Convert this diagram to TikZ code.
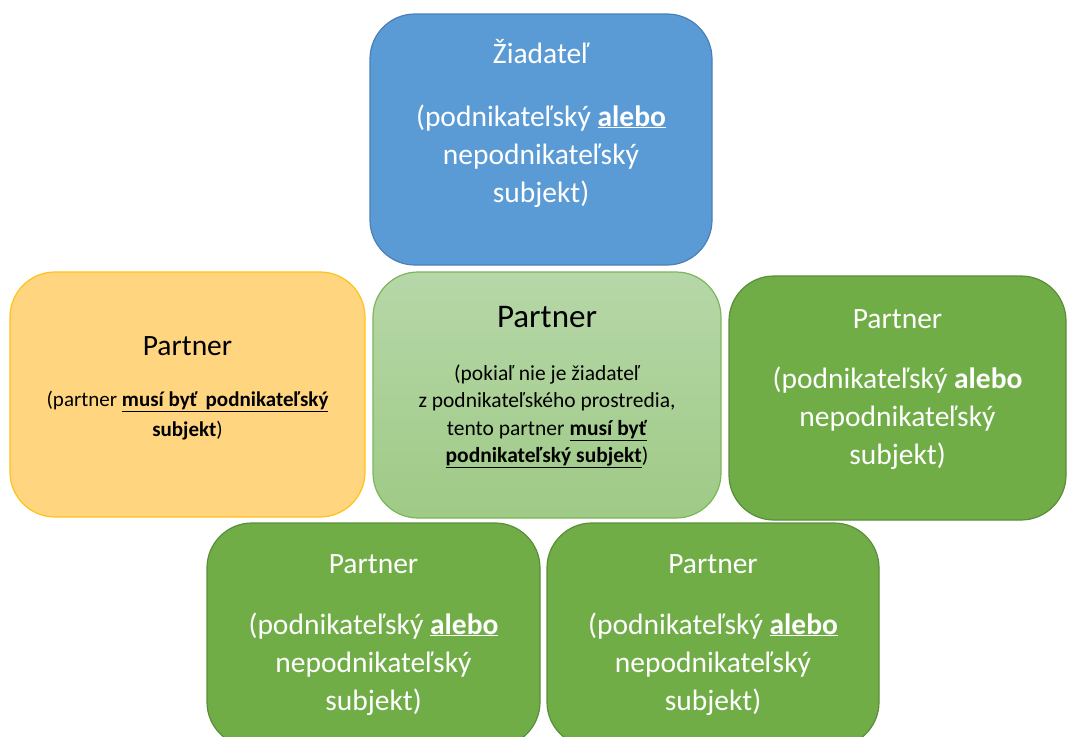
\documentclass[tikz,border=0pt]{standalone}
\usepackage{fontspec}
\setmainfont{Carlito}
\usetikzlibrary{positioning}
\definecolor{ziadblue}{HTML}{5B9BD5}
\definecolor{ziadline}{HTML}{4A80B8}
\definecolor{orfill}{HTML}{FFD57F}
\definecolor{orline}{HTML}{FFC21A}
\definecolor{ltgreentop}{HTML}{B6D7A8}
\definecolor{ltgreenbot}{HTML}{9FCA86}
\definecolor{ltgreenline}{HTML}{7DB65A}
\definecolor{dkgreen}{HTML}{70AD47}
\definecolor{dkgreenline}{HTML}{5A8E38}

\begin{document}
\begin{tikzpicture}[x=1pt,y=-1pt,
	box/.style={rectangle, rounded corners=45pt, line width=1.2pt, inner sep=0pt, outer sep=0pt},
	bluebox/.style={box, fill=ziadblue, draw=ziadline},
	orangebox/.style={box, fill=orfill, draw=orline},
	lightbox/.style={box, top color=ltgreentop, bottom color=ltgreenbot, draw=ltgreenline},
	greenbox/.style={box, fill=dkgreen, draw=dkgreenline},
	bigtext/.style={align=center, inner sep=0pt, font=\fontsize{29.5}{38}\selectfont},
	smalltext/.style={align=center, inner sep=0pt, font=\fontsize{21}{30}\selectfont},
	midtext/.style={align=center, inner sep=0pt, font=\fontsize{21.5}{27.5}\selectfont}]
		\useasboundingbox (0,0) rectangle (1067,736);
		\clip (0,0) rectangle (1067,736);
		% boxes
		\node at (541,139.5) [bluebox, minimum width=342pt, minimum height=251pt] (ziad) {};
		\node at (187.5,394.5) [orangebox, minimum width=355pt, minimum height=245pt] (porange) {};
		\node at (547,395) [lightbox, minimum width=348pt, minimum height=246pt] (pmid) {};
		\node at (897.5,398) [greenbox, minimum width=337pt, minimum height=244pt] (pright) {};
		\node at (373.5,635) [greenbox, minimum width=333pt, minimum height=224pt] (pbotl) {};
		\node at (713,635) [greenbox, minimum width=332pt, minimum height=224pt] (pbotr) {};
		% texts (base = last line)
		\node[bigtext, text=white, below=49pt of ziad.north, anchor=base] (ziadtitle) {Žiadateľ};
		\node[bigtext, text=white, below=139pt of ziadtitle.base, anchor=base] (ziadbody) {(podnikateľský \underline{\textbf{alebo}}\\ nepodnikateľský\\ subjekt)};
		\node[bigtext, below=83pt of porange.north, anchor=base] (orangetitle) {Partner};
		\node[smalltext, below=81pt of orangetitle.base, anchor=base] (orangebody) {(partner \underline{\textbf{musí byť\, podnikateľský}}\\ \textbf{subjekt})};
		\node[bigtext, font=\fontsize{33}{38}\selectfont, below=55pt of pmid.north, anchor=base] (midtitle) {Partner};
		\node[midtext, below=135.5pt of midtitle.base, anchor=base] (midbody) {(pokiaľ nie je žiadateľ\\ z podnikateľského prostredia,\\ tento partner \underline{\textbf{musí byť}}\\ \underline{\textbf{podnikateľský subjekt}})};
		\node[bigtext, text=white, below=52pt of pright.north, anchor=base] (righttitle) {Partner};
		\node[bigtext, text=white, below=136pt of righttitle.base, anchor=base] (rightbody) {(podnikateľský \textbf{alebo}\\ nepodnikateľský\\ subjekt)};
		\node[bigtext, text=white, below=50pt of pbotl.north, anchor=base] (botltitle) {Partner};
		\node[bigtext, text=white, below=137pt of botltitle.base, anchor=base] (botlbody) {(podnikateľský \underline{\textbf{alebo}}\\ nepodnikateľský\\ subjekt)};
		\node[bigtext, text=white, below=50pt of pbotr.north, anchor=base] (botrtitle) {Partner};
		\node[bigtext, text=white, below=137pt of botrtitle.base, anchor=base] (botrbody) {(podnikateľský \underline{\textbf{alebo}}\\ nepodnikateľský\\ subjekt)};
\end{tikzpicture}
\end{document}
